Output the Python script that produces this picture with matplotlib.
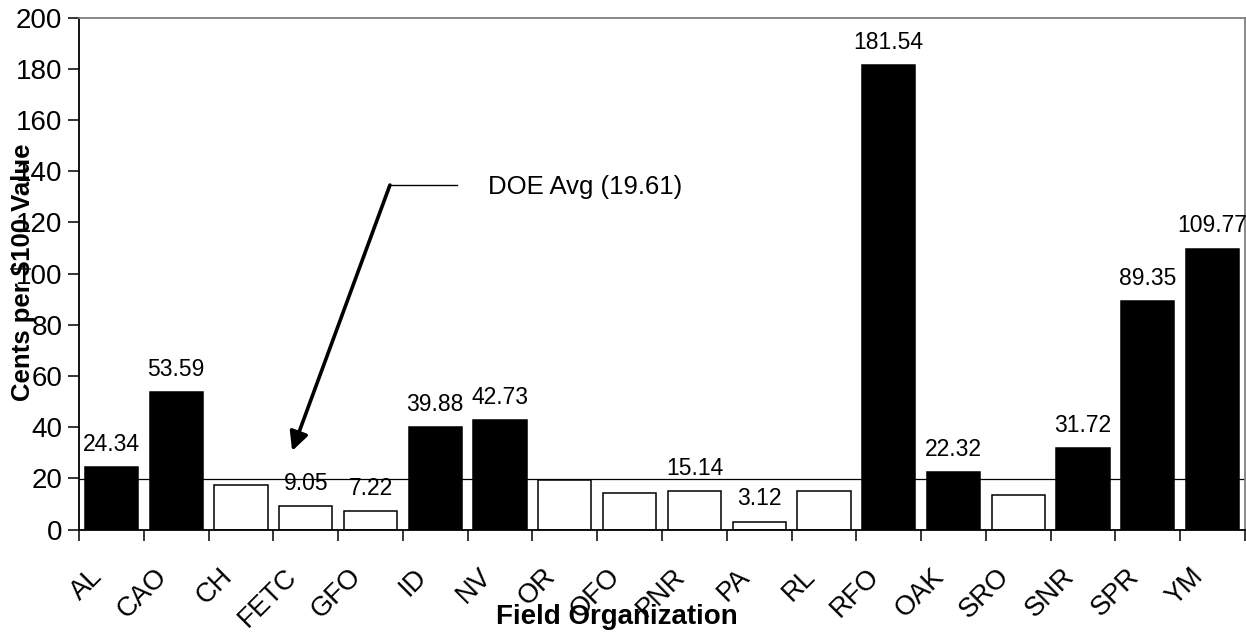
import matplotlib
matplotlib.use("Agg")

import matplotlib.pyplot as plt
import matplotlib.transforms as mtransforms
import numpy as np

plt.rcParams["font.family"] = ["Liberation Sans", "DejaVu Sans"]

# field organizations and cents per $100 value
orgs = ["AL", "CAO", "CH", "FETC", "GFO", "ID", "NV", "OR", "OFO", "PNR",
        "PA", "RL", "RFO", "OAK", "SRO", "SNR", "SPR", "YM"]
cents = [24.34, 53.59, 17.4, 9.05, 7.22, 39.88, 42.73, 19.5, 14.2, 15.14,
         3.12, 15.1, 181.54, 22.32, 13.4, 31.72, 89.35, 109.77]
# only some bars carry a value label in the original
shown = ["24.34", "53.59", None, "9.05", "7.22", "39.88", "42.73", None, None, "15.14",
         "3.12", None, "181.54", "22.32", None, "31.72", "89.35", "109.77"]
doe_avg = 19.61
y_ticks = [0, 20, 40, 60, 80, 100, 120, 140, 160, 180, 200]

fig = plt.figure(figsize=(12.46, 6.36), dpi=100)
ax = fig.add_axes([79 / 1246, 1 - 529.5 / 636, (1245 - 79) / 1246, (529.5 - 17.7) / 636])

x = np.arange(len(orgs))
colors = ["black" if c > doe_avg else "white" for c in cents]

ax.axhline(doe_avg, color="black", lw=0.9, zorder=1)
ax.bar(x, cents, width=0.82, color=colors, edgecolor="black", linewidth=1.1, zorder=2)

for xi, c, s in zip(x, cents, shown):
    if s is None:
        continue
    ax.annotate(s, (xi, c), xytext=(0, 8), textcoords="offset points",
                ha="center", va="bottom", fontsize=16.5)

# average annotation with bent leader
ax.plot([4.30, 5.34], [134.6, 134.6], color="black", lw=1.0, zorder=3)
ax.annotate("", xy=(2.79, 30.7), xytext=(4.30, 134.6),
            arrowprops=dict(arrowstyle="-|>", color="black", lw=2.6,
                            mutation_scale=28, shrinkA=0, shrinkB=0))
ax.text(5.82, 133.8, f"DOE Avg ({doe_avg})", fontsize=18.5, va="center", ha="left")

ax.set_xlim(-0.5, len(orgs) - 0.5)
ax.set_ylim(0, 200)
ax.set_yticks(y_ticks)
ax.tick_params(axis="y", direction="out", length=8, width=1.1, labelsize=20, pad=4)

# ticks sit on category boundaries, labels on the centers
ax.set_xticks(np.arange(len(orgs) + 1) - 0.5)
ax.set_xticklabels([])
ax.set_xticks(x, minor=True)
ax.set_xticklabels(orgs, minor=True, rotation=45, ha="right", va="center",
                   rotation_mode="anchor", fontsize=19.5)
ax.tick_params(axis="x", which="major", direction="out", length=8, width=1.1)
ax.tick_params(axis="x", which="minor", length=0, pad=31)
shift = mtransforms.ScaledTranslation(-13 / 100, 0, fig.dpi_scale_trans)
for lbl in ax.get_xticklabels(minor=True):
    lbl.set_transform(lbl.get_transform() + shift)

for side in ["left", "bottom"]:
    ax.spines[side].set_color("black")
    ax.spines[side].set_linewidth(1.3)
for side in ["top", "right"]:
    ax.spines[side].set_color("#808080")
    ax.spines[side].set_linewidth(1.3)

fig.text(617 / 1246, 1 - 617 / 636, "Field Organization", fontsize=20,
         fontweight="bold", ha="center", va="center")
fig.text(23 / 1246, 1 - 272 / 636, "Cents per $100 Value", fontsize=18.5,
         fontweight="bold", ha="center", va="center", rotation=90)

fig.savefig("out.png", dpi=100)
